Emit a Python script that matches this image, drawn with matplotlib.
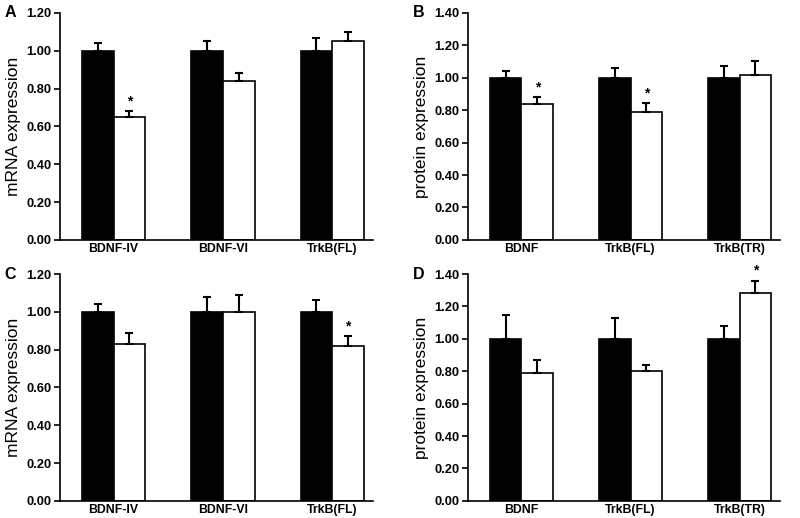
import matplotlib
matplotlib.use("Agg")
from matplotlib import pyplot as plt
import numpy as np

plt.rcParams['font.family'] = ['Liberation Sans', 'DejaVu Sans']

# panel data: control (black) vs treated (white), mean and upper SEM
cats_mrna = ["BDNF-IV", "BDNF-VI", "TrkB(FL)"]
cats_prot = ["BDNF", "TrkB(FL)", "TrkB(TR)"]

a_ctrl = [1.00, 1.00, 1.00]
a_ctrl_err = [0.04, 0.05, 0.07]
a_trt = [0.65, 0.84, 1.05]
a_trt_err = [0.03, 0.04, 0.05]
a_star = [True, False, False]

b_ctrl = [1.00, 1.00, 1.00]
b_ctrl_err = [0.04, 0.06, 0.07]
b_trt = [0.84, 0.79, 1.02]
b_trt_err = [0.04, 0.055, 0.085]
b_star = [True, True, False]

c_ctrl = [1.00, 1.00, 1.00]
c_ctrl_err = [0.04, 0.08, 0.06]
c_trt = [0.83, 1.00, 0.82]
c_trt_err = [0.06, 0.09, 0.05]
c_star = [False, False, True]

d_ctrl = [1.00, 1.00, 1.00]
d_ctrl_err = [0.15, 0.13, 0.08]
d_trt = [0.79, 0.80, 1.28]
d_trt_err = [0.08, 0.04, 0.08]
d_star = [False, False, True]

fig = plt.figure(figsize=(8, 5.18), dpi=100)

panels = [
    ("A", [0.075, 0.537, 0.391, 0.438], cats_mrna, a_ctrl, a_ctrl_err, a_trt, a_trt_err, a_star, "mRNA expression", 1.2),
    ("B", [0.585, 0.537, 0.390, 0.438], cats_prot, b_ctrl, b_ctrl_err, b_trt, b_trt_err, b_star, "protein expression", 1.4),
    ("C", [0.075, 0.033, 0.391, 0.438], cats_mrna, c_ctrl, c_ctrl_err, c_trt, c_trt_err, c_star, "mRNA expression", 1.2),
    ("D", [0.585, 0.033, 0.390, 0.438], cats_prot, d_ctrl, d_ctrl_err, d_trt, d_trt_err, d_star, "protein expression", 1.4),
]

w = 0.29
for letter, pos, cats, ctrl, ctrl_err, trt, trt_err, star, ylab, ymax in panels:
    ax = fig.add_axes(pos)
    x = np.arange(len(cats))
    ax.bar(x - w / 2, ctrl, w, color="black", edgecolor="black", linewidth=1.2,
           yerr=[np.zeros(3), ctrl_err], error_kw=dict(ecolor="black", elinewidth=1.5, capsize=3, capthick=1.5))
    ax.bar(x + w / 2, trt, w, color="white", edgecolor="black", linewidth=1.2,
           yerr=[np.zeros(3), trt_err], error_kw=dict(ecolor="black", elinewidth=1.5, capsize=3, capthick=1.5))
    for i in range(len(cats)):
        if star[i]:
            ax.text(x[i] + w / 2, trt[i] + trt_err[i] + ymax * 0.012, "*", ha="center", va="bottom",
                    fontsize=10, fontweight="bold")
    ax.set_xlim(-0.49, 2.37)
    ax.set_ylim(0, ymax)
    ticks = np.arange(0, ymax + 0.001, 0.2)
    ax.set_yticks(ticks)
    ax.set_yticklabels(["%.2f" % v for v in ticks], fontsize=9.3, fontweight="bold")
    ax.set_xticks(x)
    ax.set_xticklabels(cats, fontsize=8.8, fontweight="bold")
    ax.tick_params(axis="x", length=0, pad=2)
    ax.tick_params(axis="y", length=4, width=1.2, pad=2, direction="out")
    ax.spines["top"].set_visible(False)
    ax.spines["right"].set_visible(False)
    ax.spines["left"].set_linewidth(1.2)
    ax.spines["bottom"].set_linewidth(1.2)
    ax.set_ylabel(ylab, fontsize=12.5, labelpad=4)
    ax.text(-0.178, 1.0, letter, transform=ax.transAxes, fontsize=11.5, fontweight="bold", ha="left", va="center")

fig.savefig("out.png", dpi=100)
